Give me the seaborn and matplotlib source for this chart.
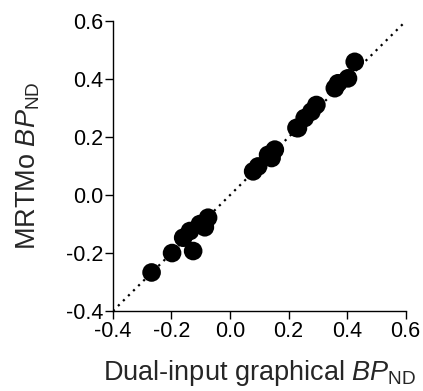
import matplotlib
matplotlib.use("Agg")
import matplotlib.pyplot as plt
import seaborn as sns
import pandas as pd

# values
dual_input = [-0.268, -0.198, -0.126, -0.160, -0.137, -0.103, -0.086, -0.075,
              0.079, 0.096, 0.130, 0.142, 0.153,
              0.227, 0.232, 0.255, 0.278, 0.295,
              0.358, 0.369, 0.403, 0.426]
mrtmo = [-0.267, -0.200, -0.193, -0.147, -0.124, -0.100, -0.111, -0.078,
         0.082, 0.099, 0.139, 0.128, 0.157,
         0.232, 0.231, 0.266, 0.288, 0.311,
         0.369, 0.386, 0.403, 0.460]
identity = [-0.4, 0.6]
ticks = [-0.4, -0.2, 0.0, 0.2, 0.4, 0.6]

sns.set_style("ticks")
plt.rcParams["font.family"] = ["Liberation Sans", "DejaVu Sans"]
plt.rcParams["axes.unicode_minus"] = False
plt.rcParams["mathtext.fontset"] = "custom"
plt.rcParams["mathtext.rm"] = "Liberation Sans"
plt.rcParams["mathtext.it"] = "Liberation Sans:italic"

df = pd.DataFrame({"dual": dual_input, "mrtmo": mrtmo})

fig = plt.figure(figsize=(4.23, 3.91), dpi=100)
ax = fig.add_axes([0.267, 0.2046, 0.692, 0.741])

sns.lineplot(x=identity, y=identity, ax=ax, color="black", linestyle=(0, (1, 2.2)),
             linewidth=1.6)
sns.scatterplot(data=df, x="dual", y="mrtmo", ax=ax, color="black", s=180,
                edgecolor="none", zorder=3, clip_on=False)

ax.set_xlim(-0.4, 0.6)
ax.set_ylim(-0.4, 0.6)
ax.set_xticks(ticks)
ax.set_yticks(ticks)
ax.set_xticklabels([f"{t:.1f}" for t in ticks])
ax.set_yticklabels([f"{t:.1f}" for t in ticks])
ax.tick_params(direction="out", length=6, width=1, labelsize=15.5, colors="black", pad=1)
for side in ["left", "bottom"]:
    ax.spines[side].set_linewidth(1)
    ax.spines[side].set_color("black")
sns.despine(ax=ax)

ax.set_xlabel(r"Dual-input graphical $\mathit{BP}_{\mathrm{ND}}$", fontsize=19.5, labelpad=12)
ax.set_ylabel(r"MRTMo $\mathit{BP}_{\mathrm{ND}}$", fontsize=19.5, labelpad=17)

fig.savefig("out.png", dpi=100)
